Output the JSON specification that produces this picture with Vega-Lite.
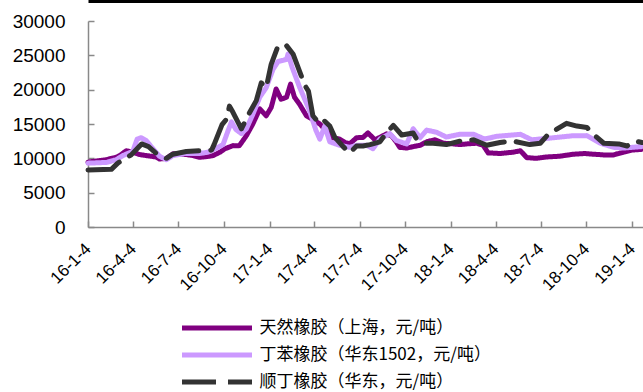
{
  "$schema": "https://vega.github.io/schema/vega-lite/v6.json",
  "width": 555,
  "height": 206,
  "autosize": {"type": "none"},
  "padding": {"left": 88, "top": 21, "right": 0, "bottom": 165},
  "background": "white",
  "config": {"view": {"stroke": null}, "font": "Liberation Sans"},
  "datasets": {
    "prices": [
      {"s": "天然橡胶（上海，元/吨）", "d": "2016-01-04", "v": 9450},
      {"s": "天然橡胶（上海，元/吨）", "d": "2016-01-20", "v": 9600},
      {"s": "天然橡胶（上海，元/吨）", "d": "2016-02-10", "v": 9800},
      {"s": "天然橡胶（上海，元/吨）", "d": "2016-03-01", "v": 10150},
      {"s": "天然橡胶（上海，元/吨）", "d": "2016-03-08", "v": 10400},
      {"s": "天然橡胶（上海，元/吨）", "d": "2016-03-21", "v": 11100},
      {"s": "天然橡胶（上海，元/吨）", "d": "2016-04-03", "v": 10900},
      {"s": "天然橡胶（上海，元/吨）", "d": "2016-04-17", "v": 10550},
      {"s": "天然橡胶（上海，元/吨）", "d": "2016-04-30", "v": 10400},
      {"s": "天然橡胶（上海，元/吨）", "d": "2016-05-20", "v": 10200},
      {"s": "天然橡胶（上海，元/吨）", "d": "2016-05-27", "v": 9900},
      {"s": "天然橡胶（上海，元/吨）", "d": "2016-06-10", "v": 10000},
      {"s": "天然橡胶（上海，元/吨）", "d": "2016-06-23", "v": 10650},
      {"s": "天然橡胶（上海，元/吨）", "d": "2016-07-07", "v": 10650},
      {"s": "天然橡胶（上海，元/吨）", "d": "2016-07-20", "v": 10550},
      {"s": "天然橡胶（上海，元/吨）", "d": "2016-08-03", "v": 10400},
      {"s": "天然橡胶（上海，元/吨）", "d": "2016-08-16", "v": 10150},
      {"s": "天然橡胶（上海，元/吨）", "d": "2016-08-30", "v": 10250},
      {"s": "天然橡胶（上海，元/吨）", "d": "2016-09-12", "v": 10400},
      {"s": "天然橡胶（上海，元/吨）", "d": "2016-09-26", "v": 10900},
      {"s": "天然橡胶（上海，元/吨）", "d": "2016-10-06", "v": 11400},
      {"s": "天然橡胶（上海，元/吨）", "d": "2016-10-22", "v": 11850},
      {"s": "天然橡胶（上海，元/吨）", "d": "2016-11-04", "v": 11850},
      {"s": "天然橡胶（上海，元/吨）", "d": "2016-11-18", "v": 13300},
      {"s": "天然橡胶（上海，元/吨）", "d": "2016-12-01", "v": 15000},
      {"s": "天然橡胶（上海，元/吨）", "d": "2016-12-15", "v": 17200},
      {"s": "天然橡胶（上海，元/吨）", "d": "2016-12-28", "v": 16200},
      {"s": "天然橡胶（上海，元/吨）", "d": "2017-01-07", "v": 17400},
      {"s": "天然橡胶（上海，元/吨）", "d": "2017-01-17", "v": 20100},
      {"s": "天然橡胶（上海，元/吨）", "d": "2017-01-27", "v": 18600},
      {"s": "天然橡胶（上海，元/吨）", "d": "2017-02-07", "v": 18900},
      {"s": "天然橡胶（上海，元/吨）", "d": "2017-02-15", "v": 20800},
      {"s": "天然橡胶（上海，元/吨）", "d": "2017-02-23", "v": 18900},
      {"s": "天然橡胶（上海，元/吨）", "d": "2017-03-05", "v": 17900},
      {"s": "天然橡胶（上海，元/吨）", "d": "2017-03-19", "v": 16200},
      {"s": "天然橡胶（上海，元/吨）", "d": "2017-04-05", "v": 15500},
      {"s": "天然橡胶（上海，元/吨）", "d": "2017-04-15", "v": 15000},
      {"s": "天然橡胶（上海，元/吨）", "d": "2017-04-28", "v": 14000},
      {"s": "天然橡胶（上海，元/吨）", "d": "2017-05-10", "v": 13000},
      {"s": "天然橡胶（上海，元/吨）", "d": "2017-05-25", "v": 12800},
      {"s": "天然橡胶（上海，元/吨）", "d": "2017-06-05", "v": 12300},
      {"s": "天然橡胶（上海，元/吨）", "d": "2017-06-14", "v": 12100},
      {"s": "天然橡胶（上海，元/吨）", "d": "2017-06-28", "v": 13000},
      {"s": "天然橡胶（上海，元/吨）", "d": "2017-07-11", "v": 13050},
      {"s": "天然橡胶（上海，元/吨）", "d": "2017-07-21", "v": 13700},
      {"s": "天然橡胶（上海，元/吨）", "d": "2017-08-04", "v": 12700},
      {"s": "天然橡胶（上海，元/吨）", "d": "2017-08-14", "v": 13050},
      {"s": "天然橡胶（上海，元/吨）", "d": "2017-08-27", "v": 13550},
      {"s": "天然橡胶（上海，元/吨）", "d": "2017-09-06", "v": 13300},
      {"s": "天然橡胶（上海，元/吨）", "d": "2017-09-16", "v": 12400},
      {"s": "天然橡胶（上海，元/吨）", "d": "2017-09-23", "v": 11600},
      {"s": "天然橡胶（上海，元/吨）", "d": "2017-10-07", "v": 11500},
      {"s": "天然橡胶（上海，元/吨）", "d": "2017-10-20", "v": 11700},
      {"s": "天然橡胶（上海，元/吨）", "d": "2017-11-03", "v": 11900},
      {"s": "天然橡胶（上海，元/吨）", "d": "2017-11-16", "v": 12400},
      {"s": "天然橡胶（上海，元/吨）", "d": "2017-12-03", "v": 12700},
      {"s": "天然橡胶（上海，元/吨）", "d": "2017-12-20", "v": 12200},
      {"s": "天然橡胶（上海，元/吨）", "d": "2018-01-09", "v": 12100},
      {"s": "天然橡胶（上海，元/吨）", "d": "2018-01-22", "v": 12000},
      {"s": "天然橡胶（上海，元/吨）", "d": "2018-02-05", "v": 12100},
      {"s": "天然橡胶（上海，元/吨）", "d": "2018-02-25", "v": 12200},
      {"s": "天然橡胶（上海，元/吨）", "d": "2018-03-10", "v": 11900},
      {"s": "天然橡胶（上海，元/吨）", "d": "2018-03-20", "v": 10800},
      {"s": "天然橡胶（上海，元/吨）", "d": "2018-04-13", "v": 10700},
      {"s": "天然橡胶（上海，元/吨）", "d": "2018-05-10", "v": 10900},
      {"s": "天然橡胶（上海，元/吨）", "d": "2018-05-24", "v": 11100},
      {"s": "天然橡胶（上海，元/吨）", "d": "2018-06-06", "v": 10100},
      {"s": "天然橡胶（上海，元/吨）", "d": "2018-06-25", "v": 10000},
      {"s": "天然橡胶（上海，元/吨）", "d": "2018-07-16", "v": 10200},
      {"s": "天然橡胶（上海，元/吨）", "d": "2018-08-10", "v": 10300},
      {"s": "天然橡胶（上海，元/吨）", "d": "2018-09-08", "v": 10600},
      {"s": "天然橡胶（上海，元/吨）", "d": "2018-10-01", "v": 10700},
      {"s": "天然橡胶（上海，元/吨）", "d": "2018-10-18", "v": 10600},
      {"s": "天然橡胶（上海，元/吨）", "d": "2018-11-08", "v": 10500},
      {"s": "天然橡胶（上海，元/吨）", "d": "2018-11-28", "v": 10500},
      {"s": "天然橡胶（上海，元/吨）", "d": "2018-12-18", "v": 10900},
      {"s": "天然橡胶（上海，元/吨）", "d": "2019-01-04", "v": 11200},
      {"s": "天然橡胶（上海，元/吨）", "d": "2019-01-22", "v": 11300},

      {"s": "丁苯橡胶（华东1502，元/吨）", "d": "2016-01-04", "v": 9300},
      {"s": "丁苯橡胶（华东1502，元/吨）", "d": "2016-02-10", "v": 9400},
      {"s": "丁苯橡胶（华东1502，元/吨）", "d": "2016-03-01", "v": 9800},
      {"s": "丁苯橡胶（华东1502，元/吨）", "d": "2016-03-14", "v": 10400},
      {"s": "丁苯橡胶（华东1502，元/吨）", "d": "2016-04-03", "v": 11000},
      {"s": "丁苯橡胶（华东1502，元/吨）", "d": "2016-04-12", "v": 12800},
      {"s": "丁苯橡胶（华东1502，元/吨）", "d": "2016-04-20", "v": 13000},
      {"s": "丁苯橡胶（华东1502，元/吨）", "d": "2016-04-30", "v": 12600},
      {"s": "丁苯橡胶（华东1502，元/吨）", "d": "2016-05-14", "v": 11400},
      {"s": "丁苯橡胶（华东1502，元/吨）", "d": "2016-05-27", "v": 10300},
      {"s": "丁苯橡胶（华东1502，元/吨）", "d": "2016-06-10", "v": 9800},
      {"s": "丁苯橡胶（华东1502，元/吨）", "d": "2016-06-23", "v": 10400},
      {"s": "丁苯橡胶（华东1502，元/吨）", "d": "2016-07-17", "v": 10700},
      {"s": "丁苯橡胶（华东1502，元/吨）", "d": "2016-08-16", "v": 10700},
      {"s": "丁苯橡胶（华东1502，元/吨）", "d": "2016-09-02", "v": 10900},
      {"s": "丁苯橡胶（华东1502，元/吨）", "d": "2016-09-22", "v": 11600},
      {"s": "丁苯橡胶（华东1502，元/吨）", "d": "2016-10-02", "v": 12000},
      {"s": "丁苯橡胶（华东1502，元/吨）", "d": "2016-10-12", "v": 14000},
      {"s": "丁苯橡胶（华东1502，元/吨）", "d": "2016-10-19", "v": 15300},
      {"s": "丁苯橡胶（华东1502，元/吨）", "d": "2016-10-28", "v": 14200},
      {"s": "丁苯橡胶（华东1502，元/吨）", "d": "2016-11-08", "v": 13600},
      {"s": "丁苯橡胶（华东1502，元/吨）", "d": "2016-11-18", "v": 14300},
      {"s": "丁苯橡胶（华东1502，元/吨）", "d": "2016-12-01", "v": 16400},
      {"s": "丁苯橡胶（华东1502，元/吨）", "d": "2016-12-15", "v": 18900},
      {"s": "丁苯橡胶（华东1502，元/吨）", "d": "2016-12-28", "v": 20300},
      {"s": "丁苯橡胶（华东1502，元/吨）", "d": "2017-01-11", "v": 23000},
      {"s": "丁苯橡胶（华东1502，元/吨）", "d": "2017-01-21", "v": 24100},
      {"s": "丁苯橡胶（华东1502，元/吨）", "d": "2017-02-07", "v": 24400},
      {"s": "丁苯橡胶（华东1502，元/吨）", "d": "2017-02-10", "v": 25200},
      {"s": "丁苯橡胶（华东1502，元/吨）", "d": "2017-02-18", "v": 23300},
      {"s": "丁苯橡胶（华东1502，元/吨）", "d": "2017-03-05", "v": 20400},
      {"s": "丁苯橡胶（华东1502，元/吨）", "d": "2017-03-25", "v": 17000},
      {"s": "丁苯橡胶（华东1502，元/吨）", "d": "2017-04-07", "v": 14100},
      {"s": "丁苯橡胶（华东1502，元/吨）", "d": "2017-04-15", "v": 12800},
      {"s": "丁苯橡胶（华东1502，元/吨）", "d": "2017-04-25", "v": 14700},
      {"s": "丁苯橡胶（华东1502，元/吨）", "d": "2017-05-05", "v": 12400},
      {"s": "丁苯橡胶（华东1502，元/吨）", "d": "2017-05-25", "v": 11900},
      {"s": "丁苯橡胶（华东1502，元/吨）", "d": "2017-06-14", "v": 11600},
      {"s": "丁苯橡胶（华东1502，元/吨）", "d": "2017-06-28", "v": 11900},
      {"s": "丁苯橡胶（华东1502，元/吨）", "d": "2017-07-18", "v": 11900},
      {"s": "丁苯橡胶（华东1502，元/吨）", "d": "2017-07-31", "v": 11400},
      {"s": "丁苯橡胶（华东1502，元/吨）", "d": "2017-08-14", "v": 12800},
      {"s": "丁苯橡胶（华东1502，元/吨）", "d": "2017-09-03", "v": 13600},
      {"s": "丁苯橡胶（华东1502，元/吨）", "d": "2017-09-16", "v": 12600},
      {"s": "丁苯橡胶（华东1502，元/吨）", "d": "2017-10-07", "v": 12100},
      {"s": "丁苯橡胶（华东1502，元/吨）", "d": "2017-10-20", "v": 14300},
      {"s": "丁苯橡胶（华东1502，元/吨）", "d": "2017-11-03", "v": 13000},
      {"s": "丁苯橡胶（华东1502，元/吨）", "d": "2017-11-16", "v": 14100},
      {"s": "丁苯橡胶（华东1502，元/吨）", "d": "2017-12-06", "v": 13800},
      {"s": "丁苯橡胶（华东1502，元/吨）", "d": "2017-12-26", "v": 13100},
      {"s": "丁苯橡胶（华东1502，元/吨）", "d": "2018-01-22", "v": 13500},
      {"s": "丁苯橡胶（华东1502，元/吨）", "d": "2018-02-19", "v": 13500},
      {"s": "丁苯橡胶（华东1502，元/吨）", "d": "2018-03-13", "v": 12800},
      {"s": "丁苯橡胶（华东1502，元/吨）", "d": "2018-04-06", "v": 13200},
      {"s": "丁苯橡胶（华东1502，元/吨）", "d": "2018-05-24", "v": 13500},
      {"s": "丁苯橡胶（华东1502，元/吨）", "d": "2018-06-16", "v": 12700},
      {"s": "丁苯橡胶（华东1502，元/吨）", "d": "2018-07-30", "v": 13000},
      {"s": "丁苯橡胶（华东1502，元/吨）", "d": "2018-09-08", "v": 13300},
      {"s": "丁苯橡胶（华东1502，元/吨）", "d": "2018-10-05", "v": 13300},
      {"s": "丁苯橡胶（华东1502，元/吨）", "d": "2018-11-01", "v": 12200},
      {"s": "丁苯橡胶（华东1502，元/吨）", "d": "2018-11-28", "v": 11600},
      {"s": "丁苯橡胶（华东1502，元/吨）", "d": "2018-12-18", "v": 11500},
      {"s": "丁苯橡胶（华东1502，元/吨）", "d": "2019-01-22", "v": 11700},

      {"s": "顺丁橡胶（华东，元/吨）", "d": "2016-01-04", "v": 8300},
      {"s": "顺丁橡胶（华东，元/吨）", "d": "2016-02-20", "v": 8400},
      {"s": "顺丁橡胶（华东，元/吨）", "d": "2016-03-04", "v": 9300},
      {"s": "顺丁橡胶（华东，元/吨）", "d": "2016-03-31", "v": 10500},
      {"s": "顺丁橡胶（华东，元/吨）", "d": "2016-04-21", "v": 12100},
      {"s": "顺丁橡胶（华东，元/吨）", "d": "2016-05-05", "v": 11700},
      {"s": "顺丁橡胶（华东，元/吨）", "d": "2016-05-21", "v": 10700},
      {"s": "顺丁橡胶（华东，元/吨）", "d": "2016-06-10", "v": 10000},
      {"s": "顺丁橡胶（华东，元/吨）", "d": "2016-06-23", "v": 10600},
      {"s": "顺丁橡胶（华东，元/吨）", "d": "2016-07-20", "v": 11000},
      {"s": "顺丁橡胶（华东，元/吨）", "d": "2016-08-16", "v": 11100},
      {"s": "顺丁橡胶（华东，元/吨）", "d": "2016-09-09", "v": 11200},
      {"s": "顺丁橡胶（华东，元/吨）", "d": "2016-09-14", "v": 12000},
      {"s": "顺丁橡胶（华东，元/吨）", "d": "2016-09-30", "v": 14900},
      {"s": "顺丁橡胶（华东，元/吨）", "d": "2016-10-09", "v": 15700},
      {"s": "顺丁橡胶（华东，元/吨）", "d": "2016-10-15", "v": 17600},
      {"s": "顺丁橡胶（华东，元/吨）", "d": "2016-10-22", "v": 16700},
      {"s": "顺丁橡胶（华东，元/吨）", "d": "2016-11-08", "v": 14300},
      {"s": "顺丁橡胶（华东，元/吨）", "d": "2016-11-21", "v": 16200},
      {"s": "顺丁橡胶（华东，元/吨）", "d": "2016-12-08", "v": 18400},
      {"s": "顺丁橡胶（华东，元/吨）", "d": "2016-12-18", "v": 21000},
      {"s": "顺丁橡胶（华东，元/吨）", "d": "2016-12-28", "v": 20300},
      {"s": "顺丁橡胶（华东，元/吨）", "d": "2017-01-07", "v": 23700},
      {"s": "顺丁橡胶（华东，元/吨）", "d": "2017-01-21", "v": 26400},
      {"s": "顺丁橡胶（华东，元/吨）", "d": "2017-02-07", "v": 26400},
      {"s": "顺丁橡胶（华东，元/吨）", "d": "2017-02-20", "v": 25200},
      {"s": "顺丁橡胶（华东，元/吨）", "d": "2017-03-05", "v": 22700},
      {"s": "顺丁橡胶（华东，元/吨）", "d": "2017-03-16", "v": 20600},
      {"s": "顺丁橡胶（华东，元/吨）", "d": "2017-03-23", "v": 19800},
      {"s": "顺丁橡胶（华东，元/吨）", "d": "2017-04-01", "v": 16200},
      {"s": "顺丁橡胶（华东，元/吨）", "d": "2017-04-15", "v": 15000},
      {"s": "顺丁橡胶（华东，元/吨）", "d": "2017-04-25", "v": 15400},
      {"s": "顺丁橡胶（华东，元/吨）", "d": "2017-05-05", "v": 14700},
      {"s": "顺丁橡胶（华东，元/吨）", "d": "2017-05-15", "v": 13100},
      {"s": "顺丁橡胶（华东，元/吨）", "d": "2017-06-01", "v": 11700},
      {"s": "顺丁橡胶（华东，元/吨）", "d": "2017-06-14", "v": 10800},
      {"s": "顺丁橡胶（华东，元/吨）", "d": "2017-06-28", "v": 11800},
      {"s": "顺丁橡胶（华东，元/吨）", "d": "2017-07-11", "v": 11800},
      {"s": "顺丁橡胶（华东，元/吨）", "d": "2017-07-25", "v": 12000},
      {"s": "顺丁橡胶（华东，元/吨）", "d": "2017-08-14", "v": 12400},
      {"s": "顺丁橡胶（华东，元/吨）", "d": "2017-08-27", "v": 13700},
      {"s": "顺丁橡胶（华东，元/吨）", "d": "2017-09-10", "v": 14800},
      {"s": "顺丁橡胶（华东，元/吨）", "d": "2017-09-27", "v": 13400},
      {"s": "顺丁橡胶（华东，元/吨）", "d": "2017-10-20", "v": 13700},
      {"s": "顺丁橡胶（华东，元/吨）", "d": "2017-10-27", "v": 12800},
      {"s": "顺丁橡胶（华东，元/吨）", "d": "2017-11-09", "v": 12200},
      {"s": "顺丁橡胶（华东，元/吨）", "d": "2017-11-29", "v": 12200},
      {"s": "顺丁橡胶（华东，元/吨）", "d": "2017-12-26", "v": 12000},
      {"s": "顺丁橡胶（华东，元/吨）", "d": "2018-01-22", "v": 12500},
      {"s": "顺丁橡胶（华东，元/吨）", "d": "2018-02-19", "v": 12700},
      {"s": "顺丁橡胶（华东，元/吨）", "d": "2018-03-17", "v": 11900},
      {"s": "顺丁橡胶（华东，元/吨）", "d": "2018-04-13", "v": 12300},
      {"s": "顺丁橡胶（华东，元/吨）", "d": "2018-05-10", "v": 12500},
      {"s": "顺丁橡胶（华东，元/吨）", "d": "2018-06-12", "v": 12000},
      {"s": "顺丁橡胶（华东，元/吨）", "d": "2018-07-03", "v": 12200},
      {"s": "顺丁橡胶（华东，元/吨）", "d": "2018-07-19", "v": 13500},
      {"s": "顺丁橡胶（华东，元/吨）", "d": "2018-08-25", "v": 15100},
      {"s": "顺丁橡胶（华东，元/吨）", "d": "2018-09-15", "v": 14700},
      {"s": "顺丁橡胶（华东，元/吨）", "d": "2018-10-05", "v": 14500},
      {"s": "顺丁橡胶（华东，元/吨）", "d": "2018-10-18", "v": 13500},
      {"s": "顺丁橡胶（华东，元/吨）", "d": "2018-11-08", "v": 12200},
      {"s": "顺丁橡胶（华东，元/吨）", "d": "2018-12-08", "v": 12100},
      {"s": "顺丁橡胶（华东，元/吨）", "d": "2018-12-25", "v": 11800},
      {"s": "顺丁橡胶（华东，元/吨）", "d": "2019-01-11", "v": 12500},
      {"s": "顺丁橡胶（华东，元/吨）", "d": "2019-01-24", "v": 12300}
    ]
  },
  "data": {"name": "prices"},
  "layer": [
    {
      "mark": {"type": "line", "strokeWidth": 5, "strokeCap": "round", "strokeJoin": "round"},
      "encoding": {
        "x": {
          "field": "d", "type": "temporal",
          "scale": {"type": "utc", "domain": [{"year": 2016, "month": 1, "date": 4, "utc": true}, {"year": 2019, "month": 1, "date": 26, "utc": true}]},
          "axis": {
            "orient": "bottom", "title": null, "grid": false,
            "values": [
              {"year": 2016, "month": 1, "date": 4, "utc": true},
              {"year": 2016, "month": 4, "date": 4, "utc": true},
              {"year": 2016, "month": 7, "date": 4, "utc": true},
              {"year": 2016, "month": 10, "date": 4, "utc": true},
              {"year": 2017, "month": 1, "date": 4, "utc": true},
              {"year": 2017, "month": 4, "date": 4, "utc": true},
              {"year": 2017, "month": 7, "date": 4, "utc": true},
              {"year": 2017, "month": 10, "date": 4, "utc": true},
              {"year": 2018, "month": 1, "date": 4, "utc": true},
              {"year": 2018, "month": 4, "date": 4, "utc": true},
              {"year": 2018, "month": 7, "date": 4, "utc": true},
              {"year": 2018, "month": 10, "date": 4, "utc": true},
              {"year": 2019, "month": 1, "date": 4, "utc": true}
            ],
            "format": "%y-%-m-%-d",
            "labelAngle": -45, "labelAlign": "right", "labelBaseline": "middle",
            "labelFontSize": 17, "labelColor": "#000000", "labelPadding": 25,
            "labelOverlap": false, "labelFlush": false, "labelBound": false,
            "tickSize": -6, "tickWidth": 1.5, "tickColor": "#898989",
            "domainColor": "#898989", "domainWidth": 1.5
          }
        },
        "y": {
          "field": "v", "type": "quantitative",
          "scale": {"domain": [0, 30000], "nice": false, "zero": true},
          "axis": {
            "title": null, "grid": false, "format": "d",
            "values": [0, 5000, 10000, 15000, 20000, 25000, 30000],
            "labelFontSize": 19, "labelColor": "#000000", "labelPadding": 29,
            "tickSize": -6, "tickWidth": 1.5, "tickColor": "#898989",
            "domainColor": "#898989", "domainWidth": 1.5, "labelFlush": false
          }
        },
        "color": {
          "field": "s", "type": "nominal",
          "scale": {
            "domain": ["天然橡胶（上海，元/吨）", "丁苯橡胶（华东1502，元/吨）", "顺丁橡胶（华东，元/吨）"],
            "range": ["#800080", "#CC99FF", "#333333"]
          },
          "legend": {
            "title": null, "orient": "none", "legendX": 91.5, "legendY": 293.5,
            "symbolType": "stroke", "symbolSize": 4900, "symbolStrokeWidth": 5,
            "labelFont": "Noto Sans CJK SC", "labelFontSize": 17, "labelColor": "#000000",
            "labelOffset": 5, "clipHeight": 27, "rowPadding": 0, "padding": 0, "labelLimit": 400
          }
        },
        "strokeDash": {
          "field": "s", "type": "nominal",
          "scale": {
            "domain": ["天然橡胶（上海，元/吨）", "丁苯橡胶（华东1502，元/吨）", "顺丁橡胶（华东，元/吨）"],
            "range": [[1, 0], [1, 0], [34, 12]]
          },
          "legend": {
            "title": null, "orient": "none", "legendX": 91.5, "legendY": 293.5,
            "symbolType": "stroke", "symbolSize": 4900, "symbolStrokeWidth": 5,
            "labelFont": "Noto Sans CJK SC", "labelFontSize": 17, "labelColor": "#000000",
            "labelOffset": 5, "clipHeight": 27, "rowPadding": 0, "padding": 0, "labelLimit": 400
          }
        }
      }
    },
    {
      "transform": [{"filter": "false"}],
      "mark": {"type": "rule"},
      "encoding": {
        "x": {
          "field": "d", "type": "temporal",
          "axis": {"orient": "top", "offset": 20, "labels": false, "ticks": false, "grid": false, "title": null, "domainColor": "#000000", "domainWidth": 3}
        }
      }
    }
  ],
  "resolve": {"axis": {"x": "independent"}}
}
